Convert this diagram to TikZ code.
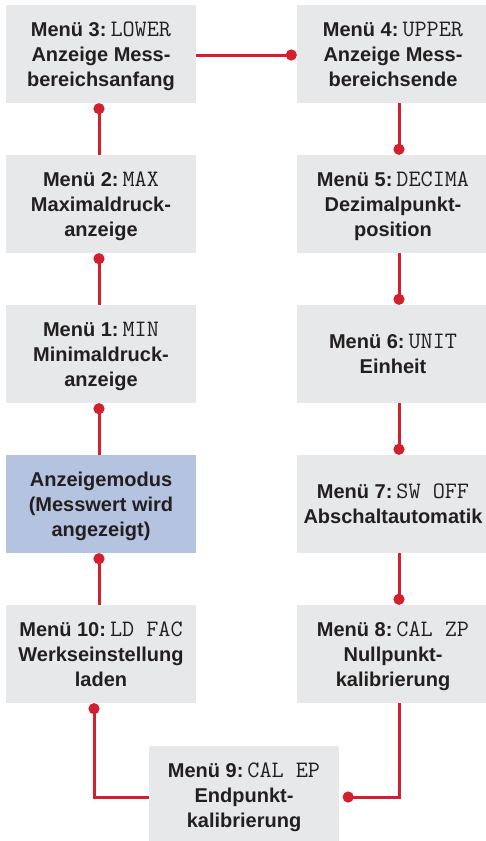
\documentclass[tikz,border=0pt]{standalone}
\usepackage{fontspec}
\setmainfont{Liberation Sans}
\usetikzlibrary{arrows.meta,calc}
\definecolor{boxgray}{HTML}{E6E8E9}
\definecolor{boxblue}{HTML}{B4C3E0}
\definecolor{linered}{HTML}{D3202F}
\definecolor{txt}{HTML}{231F20}
\newcommand{\mcode}[1]{{\fontsize{23.5}{25}\selectfont\mdseries\ttfamily #1}}
\begin{document}
\begin{tikzpicture}[x=1pt,y=-1pt,
  box/.style={fill=boxgray, minimum width=190pt, minimum height=98pt, inner sep=0pt,
    align=center, text=txt, text depth=0pt, font=\fontsize{20}{25}\selectfont\bfseries},
  rbox/.style={box, minimum width=192pt},
  conn/.style={draw=linered, line width=3pt, -{Circle[length=11pt,width=11pt]}, shorten >=0pt}]
\useasboundingbox (0,0) rectangle (485,841);
\node[box] (m3) at (101,54) {Menü 3:\hspace{4pt}\mcode{LOWER}\\Anzeige Mess-\\bereichsanfang};
\node[box] (m2) at (101,204) {Menü 2:\hspace{4pt}\mcode{MAX}\\Maximaldruck-\\anzeige};
\node[box] (m1) at (101,354) {Menü 1:\hspace{4pt}\mcode{MIN}\\Minimaldruck-\\anzeige};
\node[box, fill=boxblue] (anz) at (101,504) {Anzeigemodus\\(Messwert wird\\angezeigt)};
\node[box] (m10) at (101,654) {Menü 10:\hspace{4pt}\mcode{LD FAC}\\Werkseinstellung\\laden};
\node[rbox] (m4) at (393,54) {Menü 4:\hspace{4pt}\mcode{UPPER}\\Anzeige Mess-\\bereichsende};
\node[rbox] (m5) at (393,204) {Menü 5:\hspace{4pt}\mcode{DECIMA}\\Dezimalpunkt-\\position};
\node[rbox] (m6) at (393,354) {Menü 6:\hspace{4pt}\mcode{UNIT}\\Einheit};
\node[rbox] (m7) at (393,504) {Menü 7:\hspace{4pt}\mcode{SW OFF}\\Abschaltautomatik};
\node[rbox] (m8) at (393,654) {Menü 8:\hspace{4pt}\mcode{CAL ZP}\\Nullpunkt-\\kalibrierung};
\node[box] (m9) at (244,795) {Menü 9:\hspace{4pt}\mcode{CAL EP}\\Endpunkt-\\kalibrierung};
\coordinate (lx) at (99,0);
\coordinate (rx) at (399,0);
\coordinate (x10) at (94,0);
\coordinate (hy) at (0,55);
\coordinate (by) at (0,797);
\draw[conn] (anz.north -| lx) -- (m1.south -| lx);
\draw[conn] (m1.north -| lx) -- (m2.south -| lx);
\draw[conn] (m2.north -| lx) -- (m3.south -| lx);
\draw[conn] (m3.east |- hy) -- (m4.west |- hy);
\draw[conn] (m4.south -| rx) -- (m5.north -| rx);
\draw[conn] (m5.south -| rx) -- (m6.north -| rx);
\draw[conn] (m6.south -| rx) -- (m7.north -| rx);
\draw[conn] (m7.south -| rx) -- (m8.north -| rx);
\draw[conn, shorten >=3.5pt] (m8.south -| rx) |- (m9.east |- by);
\draw[conn] (m9.west |- by) -| (m10.south -| x10);
\draw[conn] (m10.north -| lx) -- (anz.south -| lx);
\end{tikzpicture}
\end{document}
